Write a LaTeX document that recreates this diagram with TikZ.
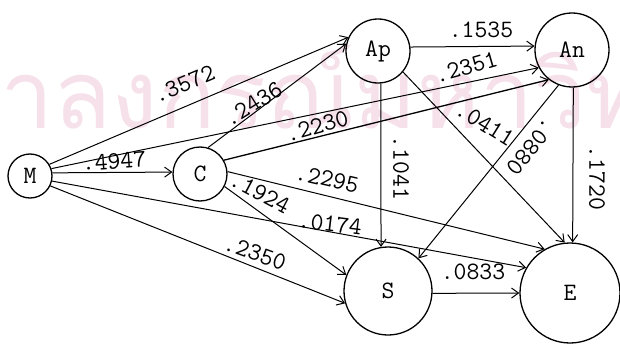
\documentclass[tikz,border=0pt]{standalone}
\usepackage{fontspec}
\newfontfamily\thaifont[Script=Thai]{Loma}
\usetikzlibrary{arrows.meta}
\definecolor{wm}{RGB}{246,224,234}
\newcommand{\twfont}{\fontsize{25}{25}\selectfont\ttfamily\addfontfeatures{FakeBold=1.3}}
\begin{document}
\begin{tikzpicture}[x=1pt,y=-1pt,
  nd/.style={draw,circle,line width=1.3pt,inner sep=0pt,font=\twfont},
  edge/.style={line width=1pt,-{Straight Barb[length=7pt,width=10pt,line width=1pt]}},
  lab/.style={inner sep=0pt,font=\twfont}]
\useasboundingbox (0,0) rectangle (620,345);
\fill[white] (0,0) rectangle (620,345);
\clip (0,0) rectangle (620,345);
\node[anchor=base west,inner sep=0pt,text=wm,font=\thaifont\fontsize{95}{95}\selectfont] (wmk) at (0,128) {าลงกรณ์มหาวิทยาลัย};

\node[nd,minimum size=44pt] (M) at (30,176) {M};
\node[nd,minimum size=54pt] (C) at (200,174) {C};
\node[nd,minimum size=64pt] (Ap) at (378,51) {Ap};
\node[nd,minimum size=74pt] (An) at (572,50) {An};
\node[nd,minimum size=88pt] (S) at (388,291) {S};
\node[nd,minimum size=100pt] (E) at (570,293) {E};

\draw[edge] (M.31) -- (Ap.155);
\draw[edge] (M.19) -- (An.208);
\draw[edge] (M.8) -- (C.176);
\draw[edge] (M.-26) -- (S.196);
\draw[edge] (M.-13) -- (E.150);
\draw[edge] (C.73) -- (Ap.167);
\draw[edge,line width=1.3pt] (C.30) -- (An.232);
\draw[edge] (C.-27) -- (S.159);
\draw[edge] (C.5) -- (E.120);
\draw[edge] (Ap.7) -- (An.174);
\draw[edge] (Ap.-85) -- (S.99);
\draw[edge] (Ap.-40) -- (E.96);
\draw[edge] (An.249) -- (S.47);
\draw[edge] (An.-88) -- (E.87);
\draw[edge] (S.-3) -- (E.180);

\node[lab,rotate=23] (l1) at (184,84) {.3572};
\node[lab,rotate=32] (l2) at (253,104) {.2436};
\node[lab,rotate=16] (l3) at (317,126) {.2230};
\node[lab,rotate=4] (l4) at (114,161) {.4947};
\node[lab,rotate=-28] (l5) at (260,193) {.1924};
\node[lab,rotate=-13] (l6) at (327,179) {.2295};
\node[lab,rotate=-7] (l7) at (330,224) {.0174};
\node[lab,rotate=-20] (l8) at (255,253) {.2350};
\node[lab] (l9) at (481,30) {.1535};
\node[lab,rotate=16] (l10) at (466,67) {.2351};
\node[lab,rotate=-32] (l11) at (485,124) {.0411};
\node[lab,rotate=-129] (l12) at (531,147) {.0880};
\node[lab,rotate=-90] (l13) at (401,168) {.1041};
\node[lab,rotate=-90] (l14) at (597,178) {.1720};
\node[lab] (l15) at (473,272) {.0833};
\end{tikzpicture}
\end{document}
